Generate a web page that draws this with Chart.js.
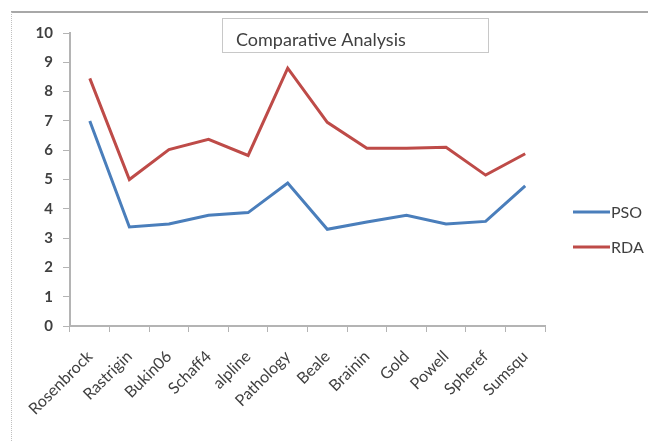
<!DOCTYPE html>
<html>
<head>
<meta charset="utf-8">
<script src="https://cdn.jsdelivr.net/npm/chart.js@4.4.0/dist/chart.umd.min.js"></script>
<style>
  html, body { margin: 0; padding: 0; background: #fff; }
  #wrap { width: 648px; height: 442px; position: relative; }
</style>
</head>
<body>
<div id="wrap"><canvas id="myChart" width="648" height="442"></canvas></div>
<script>
const labels = ["Rosenbrock", "Rastrigin", "Bukin06", "Schaff4", "alpline", "Pathology",
    "Beale", "Brainin", "Gold", "Powell", "Spheref", "Sumsqu"];
const psoValues = [7.0, 3.38, 3.48, 3.78, 3.87, 4.88, 3.3, 3.55, 3.78, 3.48, 3.57, 4.78];
const rdaValues = [8.45, 5.0, 6.02, 6.37, 5.82, 8.8, 6.95, 6.07, 6.07, 6.1, 5.15, 5.88];
const yTicks = [0, 1, 2, 3, 4, 5, 6, 7, 8, 9, 10];
const chartTitle = "Comparative Analysis";

const axisGrey = "#b4b4b4";
const textGrey = "#404040";
const font = "Lato, 'Open Sans', sans-serif";

// frame, title box and legend drawn by hand, like the spreadsheet chart
const decorations = {
    id: 'decorations',
    beforeDraw(chart) {
        const c = chart.ctx;
        c.save();
        c.fillStyle = '#fff';
        c.fillRect(0, 0, chart.width, chart.height);
        c.strokeStyle = '#a8a8a8';
        c.lineWidth = 2;
        c.beginPath();
        c.moveTo(11, 12);
        c.lineTo(chart.width, 12);
        c.stroke();
        c.strokeStyle = '#c0c0c0';
        c.lineWidth = 1;
        c.setLineDash([1, 1]);
        c.beginPath();
        c.moveTo(11.5, 12);
        c.lineTo(11.5, chart.height);
        c.stroke();
        c.restore();
    },
    afterDraw(chart) {
        const c = chart.ctx;
        const area = chart.chartArea;
        c.save();
        // title box
        const bx = area.left + 152, by = 18, bw = 266, bh = 34;
        c.strokeStyle = '#c8c8c8';
        c.lineWidth = 1;
        c.strokeRect(bx + 0.5, by + 0.5, bw, bh);
        c.fillStyle = textGrey;
        c.font = "18px " + font;
        c.textBaseline = 'middle';
        c.textAlign = 'left';
        c.fillText(chartTitle, bx + 14, by + 22);
        // legend
        c.font = "16px " + font;
        chart.data.datasets.forEach(function (ds, i) {
            const y = 212 + i * 35;
            const x = area.right + 28;
            c.strokeStyle = ds.borderColor;
            c.lineWidth = 3;
            c.beginPath();
            c.moveTo(x, y);
            c.lineTo(x + 37, y);
            c.stroke();
            c.fillStyle = textGrey;
            c.fillText(ds.label, x + 38, y + 1);
        });
        c.restore();
    }
};

const data = {
    labels,
    datasets: [{
        label: "PSO",
        data: psoValues,
        borderColor: "#4a7ebb",
        backgroundColor: "#4a7ebb",
        borderWidth: 3,
        tension: 0,
        pointRadius: 0,
    }, {
        label: "RDA",
        data: rdaValues,
        borderColor: "#be4b48",
        backgroundColor: "#be4b48",
        borderWidth: 3,
        tension: 0,
        pointRadius: 0,
    }]
};

const config = {
    type: 'line',
    data: data,
    plugins: [decorations],
    options: {
        responsive: false,
        animation: false,
        layout: {
            padding: { left: 0, top: 33, right: 103, bottom: 0 }
        },
        plugins: {
            legend: { display: false },
            title: { display: false },
            tooltip: { enabled: false }
        },
        scales: {
            x: {
                offset: true,
                afterFit(scale) { scale.height = 116; },
                grid: {
                    offset: true,
                    drawOnChartArea: false,
                    drawTicks: true,
                    tickLength: 6,
                    color: axisGrey,
                    lineWidth: 1
                },
                border: { display: true, color: axisGrey, width: 2 },
                ticks: {
                    autoSkip: false,
                    minRotation: 45,
                    maxRotation: 45,
                    padding: 15,
                    color: textGrey,
                    font: { family: font, size: 16 }
                }
            },
            y: {
                min: 0,
                max: 10,
                afterFit(scale) { scale.width = 70; },
                afterBuildTicks(scale) {
                    scale.ticks = yTicks.map(function (v) { return { value: v }; });
                },
                grid: {
                    drawOnChartArea: false,
                    drawTicks: true,
                    tickLength: 7,
                    color: axisGrey,
                    lineWidth: 1
                },
                border: { display: true, color: axisGrey, width: 2 },
                ticks: {
                    padding: 10,
                    color: textGrey,
                    font: { family: font, size: 15, weight: 'bold' }
                }
            }
        }
    }
};

const myChart = new Chart(document.getElementById('myChart').getContext('2d'), config);
</script>
</body>
</html>
